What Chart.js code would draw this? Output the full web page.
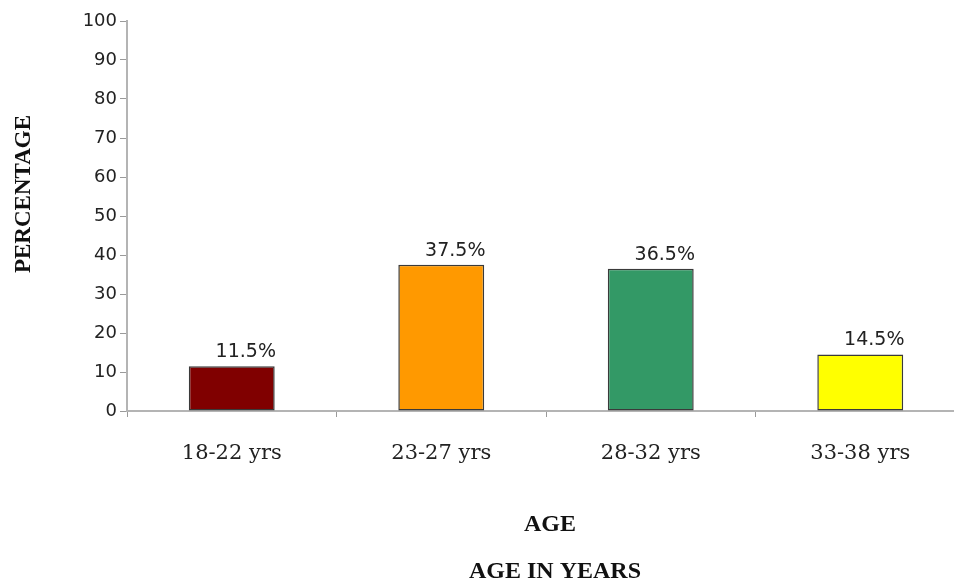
<!DOCTYPE html>
<html>
<head>
<meta charset="utf-8">
<script src="https://cdn.jsdelivr.net/npm/chart.js@4.4.1/dist/chart.umd.min.js"></script>
<style>
    body { margin: 0; background: #fff; overflow: hidden; }
    #wrap { width: 980px; height: 582px; }
</style>
</head>
<body>
<div id="wrap"><canvas id="grafico" width="980" height="582"></canvas></div>
<script>
const faixas = ['18-22 yrs', '23-27 yrs', '28-32 yrs', '33-38 yrs'];
const percentuais = [11.5, 37.5, 36.5, 14.5];
const rotulos = ['11.5%', '37.5%', '36.5%', '14.5%'];
const cores = ['#800000', '#ff9900', '#339966', '#ffff00'];
const tituloY = 'PERCENTAGE';
const tituloX = ['AGE', 'AGE IN YEARS'];

// rótulos de valor acima das barras + títulos dos eixos
const textosExtras = {
    id: 'textosExtras',
    afterDatasetsDraw(chart) {
        const ctx = chart.ctx;
        const area = chart.chartArea;
        const meta = chart.getDatasetMeta(0);
        ctx.save();
        ctx.fillStyle = '#222';
        ctx.font = '19px "DejaVu Sans", Verdana, sans-serif';
        ctx.textAlign = 'center';
        ctx.textBaseline = 'alphabetic';
        meta.data.forEach((bar, i) => {
            ctx.fillText(rotulos[i], bar.x + 14, bar.y - 9);
        });

        ctx.fillStyle = '#111';
        ctx.font = 'bold 23px "Liberation Serif", "Times New Roman", serif';
        ctx.textBaseline = 'middle';
        ctx.save();
        ctx.translate(24, 194);
        ctx.rotate(-Math.PI / 2);
        ctx.fillText(tituloY, 0, 0);
        ctx.restore();

        const meio = (area.left + area.right) / 2;
        ctx.font = 'bold 24px "Liberation Serif", "Times New Roman", serif';
        ctx.fillText(tituloX[0], meio + 4, 525);
        ctx.fillText(tituloX[1], meio + 9, 572);
        ctx.restore();
    }
};

const ctx = document.getElementById('grafico').getContext('2d');
const chart = new Chart(ctx, {
    type: 'bar',
    data: {
        labels: faixas,
        datasets: [{
            data: percentuais,
            backgroundColor: cores,
            borderColor: '#3a3a3a',
            borderWidth: 1.5,
            borderSkipped: false,
            categoryPercentage: 1,
            barPercentage: 0.41
        }]
    },
    options: {
        responsive: false,
        animation: false,
        layout: { padding: { top: 21, right: 15, left: 0, bottom: 0 } },
        plugins: {
            legend: { display: false },
            tooltip: { enabled: false }
        },
        scales: {
            y: {
                min: 0,
                max: 100,
                ticks: {
                    stepSize: 10,
                    color: '#222',
                    padding: 3,
                    font: { family: '"DejaVu Sans", Verdana, sans-serif', size: 18 }
                },
                grid: {
                    drawOnChartArea: false,
                    color: '#9a9a9a',
                    tickLength: 7
                },
                border: { color: '#b4b4b4', width: 2 },
                afterFit(scale) { scale.width = 127; }
            },
            x: {
                ticks: {
                    color: '#222',
                    padding: 24,
                    font: { family: '"DejaVu Serif", "Times New Roman", serif', size: 21 }
                },
                grid: {
                    offset: true,
                    drawOnChartArea: false,
                    color: '#9a9a9a',
                    tickLength: 6
                },
                border: { color: '#b4b4b4', width: 2 },
                afterFit(scale) { scale.height = 171; }
            }
        }
    },
    plugins: [textosExtras]
});
</script>
</body>
</html>
